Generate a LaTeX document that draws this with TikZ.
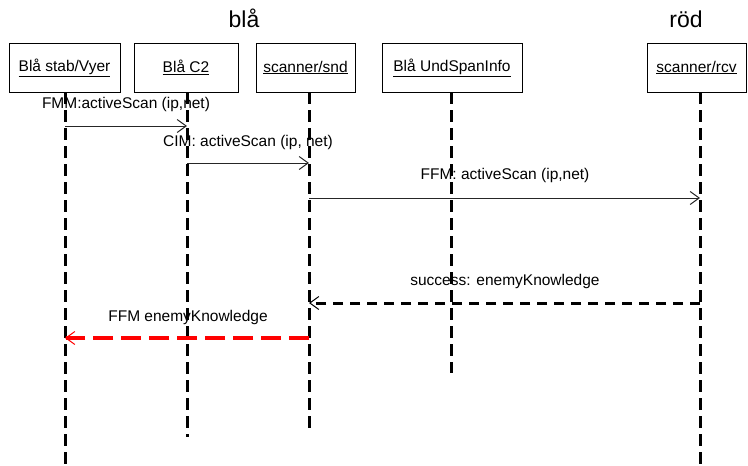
\documentclass[tikz,border=0pt]{standalone}
\usepackage{fontspec}
\setmainfont{Liberation Sans}
\usetikzlibrary{arrows.meta}
\begin{document}
\begin{tikzpicture}[x=1pt,y=-1pt,
  objbox/.style={draw=black, line width=1pt, minimum height=49pt, inner sep=0pt,
    font=\fontsize{15.5}{18}\selectfont},
  lifeline/.style={line width=3pt, dash pattern=on 12pt off 6pt},
  barb/.style={-{Straight Barb[length=9pt,width=13pt,line width=1pt]}},
  callmsg/.style={barb, draw=black!85, line width=1pt},
  replymsg/.style={barb, line width=3pt, dash pattern=on 10pt off 7pt},
  redmsg/.style={-{Straight Barb[length=9pt,width=13pt,line width=1pt,red]},
    draw=red, line width=4pt, dash pattern=on 20pt off 8pt},
  msglabel/.style={font=\fontsize{15.5}{18}\selectfont, inner sep=0pt},
  sidetitle/.style={font=\fontsize{23}{27}\selectfont, inner sep=0pt, anchor=base}
]
\useasboundingbox (0,0) rectangle (748,466);

% side titles
\node[sidetitle] (tblue) at (244,27) {blå};
\node[sidetitle] (tred) at (686,27) {röd};

% object boxes
\node[objbox, minimum width=111pt] (o1) at (64.5,67.5) {\underline{Blå stab/Vyer}};
\node[objbox, minimum width=104pt] (o2) at (186,67.5) {\underline{Blå C2}};
\node[objbox, minimum width=99pt]  (o3) at (305.5,67.5) {\underline{scanner/snd}};
\node[objbox, minimum width=140pt] (o4) at (452,67.5) {\underline{Blå UndSpanInfo}};
\node[objbox, minimum width=99pt]  (o5) at (696.5,67.5) {\underline{scanner/rcv}};

% lifeline ends
\coordinate (a1) at (65,92);  \coordinate (b1) at (65,466);
\coordinate (a2) at (187,92); \coordinate (b2) at (187,437);
\coordinate (a3) at (309,92); \coordinate (b3) at (309,429);
\coordinate (a4) at (451,92); \coordinate (b4) at (451,373);
\coordinate (a5) at (700,92); \coordinate (b5) at (700,466);

\foreach \i in {1,...,5} \draw[lifeline] (a\i) -- (b\i);

% message heights
\coordinate (m1) at (0,126);
\coordinate (m2) at (0,163);
\coordinate (m3) at (0,198);
\coordinate (m4) at (0,303);
\coordinate (m5) at (0,338);

% messages
\draw[callmsg] (a1 |- m1) -- (a2 |- m1);
\node[msglabel] (t1) at (126,104) {FMM:activeScan (ip,net)};

\draw[callmsg] (a2 |- m2) -- (a3 |- m2);
\node[msglabel] (t2) at (248,142) {CIM: activeScan (ip, net)};

\draw[callmsg] (a3 |- m3) -- (a5 |- m3);
\node[msglabel] (t3) at (505,175) {FFM: activeScan (ip,net)};

\draw[replymsg] (a5 |- m4) -- (a3 |- m4);
\node[msglabel] (t4) at (505,281) {success: enemyKnowledge};

\draw[redmsg] (a3 |- m5) -- (a1 |- m5);
\node[msglabel] (t5) at (188,317) {FFM enemyKnowledge};
\end{tikzpicture}
\end{document}
